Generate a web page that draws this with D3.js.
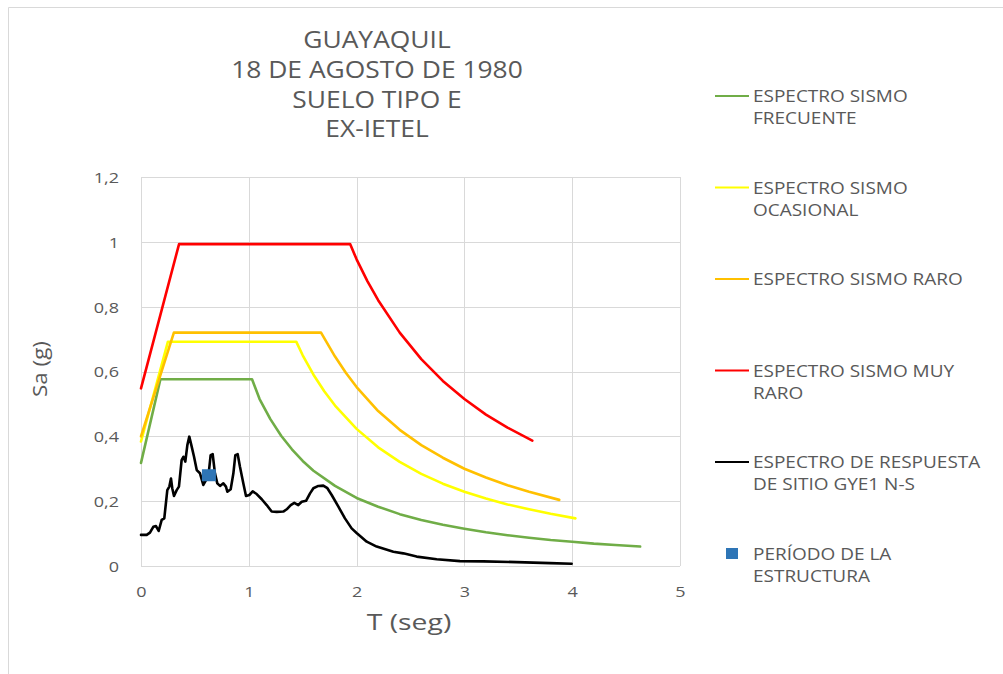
<!DOCTYPE html>
<html><head><meta charset="utf-8">
<script src="https://cdn.jsdelivr.net/npm/d3@7"></script>
<style>
body{margin:0;background:#fff}
text{font-family:"Open Sans",sans-serif;fill:#595959}
</style>
</head><body>
<svg id="c" width="1003" height="674"></svg>
<script>
// ---- data ----
const titleLines = ["GUAYAQUIL", "18 DE AGOSTO DE 1980", "SUELO TIPO E", "EX-IETEL"];
const xTicks = [0, 1, 2, 3, 4, 5];
const xTickLabels = ["0", "1", "2", "3", "4", "5"];
const yTicks = [0, 0.2, 0.4, 0.6, 0.8, 1, 1.2];
const yTickLabels = ["0", "0,2", "0,4", "0,6", "0,8", "1", "1,2"];
const xTitle = "T (seg)";
const yTitle = "Sa (g)";

const frecuenteT  = [0, 0.18, 1.03, 1.1, 1.2, 1.3, 1.4, 1.5, 1.6, 1.8, 2.0, 2.2, 2.4, 2.6, 2.8, 3.0, 3.2, 3.4, 3.6, 3.8, 4.0, 4.2, 4.4, 4.63];
const frecuenteSa = [0.318, 0.576, 0.576, 0.515, 0.453, 0.402, 0.36, 0.324, 0.294, 0.247, 0.21, 0.183, 0.16, 0.142, 0.127, 0.115, 0.104, 0.095, 0.087, 0.08, 0.075, 0.069, 0.065, 0.06];

const ocasionalT  = [0, 0.25, 1.44, 1.5, 1.6, 1.7, 1.8, 2.0, 2.2, 2.4, 2.6, 2.8, 3.0, 3.2, 3.4, 3.6, 3.8, 4.03];
const ocasionalSa = [0.384, 0.692, 0.692, 0.65, 0.59, 0.539, 0.495, 0.423, 0.366, 0.321, 0.284, 0.254, 0.229, 0.208, 0.19, 0.175, 0.161, 0.147];

const raroT  = [0, 0.305, 1.67, 1.8, 1.9, 2.0, 2.2, 2.4, 2.6, 2.8, 3.0, 3.2, 3.4, 3.6, 3.88];
const raroSa = [0.40, 0.72, 0.72, 0.646, 0.596, 0.552, 0.478, 0.42, 0.373, 0.334, 0.30, 0.273, 0.249, 0.229, 0.204];

const muyRaroT  = [0, 0.353, 1.94, 2.0, 2.1, 2.2, 2.4, 2.6, 2.8, 3.0, 3.2, 3.4, 3.63];
const muyRaroSa = [0.548, 0.993, 0.993, 0.946, 0.879, 0.82, 0.72, 0.638, 0.571, 0.515, 0.467, 0.427, 0.387];

const sitioT = [0, 0.053, 0.083, 0.114, 0.139, 0.164, 0.192, 0.216, 0.244, 0.263, 0.278, 0.29, 0.306, 0.331, 0.352, 0.377, 0.393, 0.411, 0.43, 0.448, 0.467, 0.492, 0.517, 0.547, 0.578, 0.603, 0.628, 0.646, 0.665, 0.686, 0.708, 0.733, 0.764, 0.788, 0.801, 0.832, 0.857, 0.875, 0.897, 0.918, 0.949, 0.974, 1.005, 1.036, 1.073, 1.12, 1.166, 1.212, 1.259, 1.32, 1.352, 1.389, 1.422, 1.459, 1.491, 1.531, 1.568, 1.599, 1.645, 1.691, 1.729, 1.769, 1.831, 1.892, 1.954, 2.0, 2.094, 2.186, 2.341, 2.433, 2.557, 2.743, 2.959, 3.175, 3.485, 3.794, 3.995];
const sitioSa = [0.096, 0.096, 0.103, 0.121, 0.123, 0.108, 0.142, 0.147, 0.234, 0.245, 0.27, 0.24, 0.216, 0.234, 0.245, 0.327, 0.337, 0.322, 0.373, 0.399, 0.373, 0.337, 0.296, 0.286, 0.25, 0.265, 0.286, 0.342, 0.345, 0.286, 0.255, 0.247, 0.255, 0.245, 0.229, 0.237, 0.286, 0.342, 0.345, 0.306, 0.255, 0.216, 0.219, 0.23, 0.222, 0.206, 0.188, 0.168, 0.167, 0.168, 0.175, 0.188, 0.195, 0.188, 0.198, 0.201, 0.224, 0.24, 0.247, 0.248, 0.24, 0.219, 0.183, 0.147, 0.116, 0.102, 0.075, 0.060, 0.044, 0.039, 0.029, 0.021, 0.015, 0.0144, 0.012, 0.009, 0.007];

const periodoT = [0.63];
const periodoSa = [0.28];

const seriesNames = [
  ["ESPECTRO SISMO", "FRECUENTE"],
  ["ESPECTRO SISMO", "OCASIONAL"],
  ["ESPECTRO SISMO RARO"],
  ["ESPECTRO SISMO MUY", "RARO"],
  ["ESPECTRO DE RESPUESTA", "DE SITIO GYE1 N-S"],
  ["PERÍODO DE LA", "ESTRUCTURA"]
];
const seriesColors = ["#70AD47", "#FFFF00", "#FFC000", "#FF0000", "#000000", "#2E75B6"];

// ---- build ----
const lineSeries = [
  {T: frecuenteT, S: frecuenteSa, c: seriesColors[0]},
  {T: ocasionalT, S: ocasionalSa, c: seriesColors[1]},
  {T: raroT, S: raroSa, c: seriesColors[2]},
  {T: muyRaroT, S: muyRaroSa, c: seriesColors[3]},
  {T: sitioT, S: sitioSa, c: seriesColors[4]}
];

const svg = d3.select("#c");
const x = d3.scaleLinear().domain([0, 5]).range([141, 680]);
const y = d3.scaleLinear().domain([0, 1.2]).range([566, 177]);

function stretch(sel, f) {
  sel.each(function () {
    const w = this.getComputedTextLength();
    this.setAttribute("textLength", w * f);
    this.setAttribute("lengthAdjust", "spacingAndGlyphs");
  });
}

// chart border (top & left visible)
svg.append("path").attr("d", "M8.5,674V7.5H1003").attr("fill", "none").attr("stroke", "#d9d9d9").attr("stroke-width", 1);

// title
const tt = svg.append("g").selectAll("text").data(titleLines).join("text")
  .attr("x", 377).attr("y", (d, i) => 48.3 + i * 29.7)
  .attr("text-anchor", "middle").style("font-size", "24px").text(d => d);
stretch(tt, 1.1);

// gridlines via axes
const gy = svg.append("g").attr("transform", `translate(${x(0)},0)`)
  .call(d3.axisLeft(y).tickValues(yTicks).tickSize(-(x(5) - x(0))).tickFormat((d, i) => yTickLabels[i]).tickPadding(22));
gy.select(".domain").remove();
gy.selectAll(".tick line").attr("stroke", "#d9d9d9").attr("shape-rendering", "crispEdges");
const ytxt = gy.selectAll(".tick text").attr("fill", "#595959").style("font-size", "15px").style("font-family", '"Open Sans",sans-serif').attr("dy", "0.36em");
stretch(ytxt, 1.2);

const gx = svg.append("g").attr("transform", `translate(0,${y(0)})`)
  .call(d3.axisBottom(x).tickValues(xTicks).tickSize(-(y(0) - y(1.2))).tickFormat((d, i) => xTickLabels[i]).tickPadding(20));
gx.select(".domain").remove();
gx.selectAll(".tick line").attr("stroke", "#d9d9d9").attr("shape-rendering", "crispEdges");
const xtxt = gx.selectAll(".tick text").attr("fill", "#595959").style("font-size", "15px").style("font-family", '"Open Sans",sans-serif').attr("dy", "0.36em").attr("y", 25.5);
stretch(xtxt, 1.2);

// axis titles
const xt = svg.append("text").attr("x", 409).attr("y", 629.5).attr("text-anchor", "middle").style("font-size", "21px").text(xTitle);
stretch(xt, 1.35);
const yt = svg.append("text").attr("transform", "translate(46.5,369) rotate(-90)").attr("text-anchor", "middle").style("font-size", "20px").text(yTitle);
stretch(yt, 1.12);

// lines
const line = d3.line().x(d => x(d[0])).y(d => y(d[1]));
svg.append("g").selectAll("path").data(lineSeries).join("path")
  .attr("d", s => line(s.T.map((t, i) => [t, s.S[i]])))
  .attr("fill", "none").attr("stroke", s => s.c).attr("stroke-width", 2.6)
  .attr("stroke-linejoin", "round").attr("stroke-linecap", "round");

// structure period marker
svg.append("g").selectAll("rect").data(periodoT.map((t, i) => [t, periodoSa[i]])).join("rect")
  .attr("x", d => x(d[0]) - 7).attr("y", d => y(d[1]) - 6).attr("width", 14).attr("height", 12)
  .attr("fill", seriesColors[5]);

// legend
const lg = svg.append("g");
seriesNames.forEach((lines, i) => {
  const cy = 96 + i * 91.5;
  if (i < 5) {
    lg.append("line").attr("x1", 715).attr("x2", 749).attr("y1", cy).attr("y2", cy)
      .attr("stroke", seriesColors[i]).attr("stroke-width", 2.2);
  } else {
    lg.append("rect").attr("x", 726).attr("y", cy - 5.5).attr("width", 12).attr("height", 11).attr("fill", seriesColors[i]);
  }
  const t = lg.selectAll(null).data(lines).join("text")
    .attr("x", 753).attr("y", (d, j) => cy + 6 + j * 22.3)
    .style("font-size", "16.5px").text(d => d);
  stretch(t, 1.15);
});
</script>
</body></html>
